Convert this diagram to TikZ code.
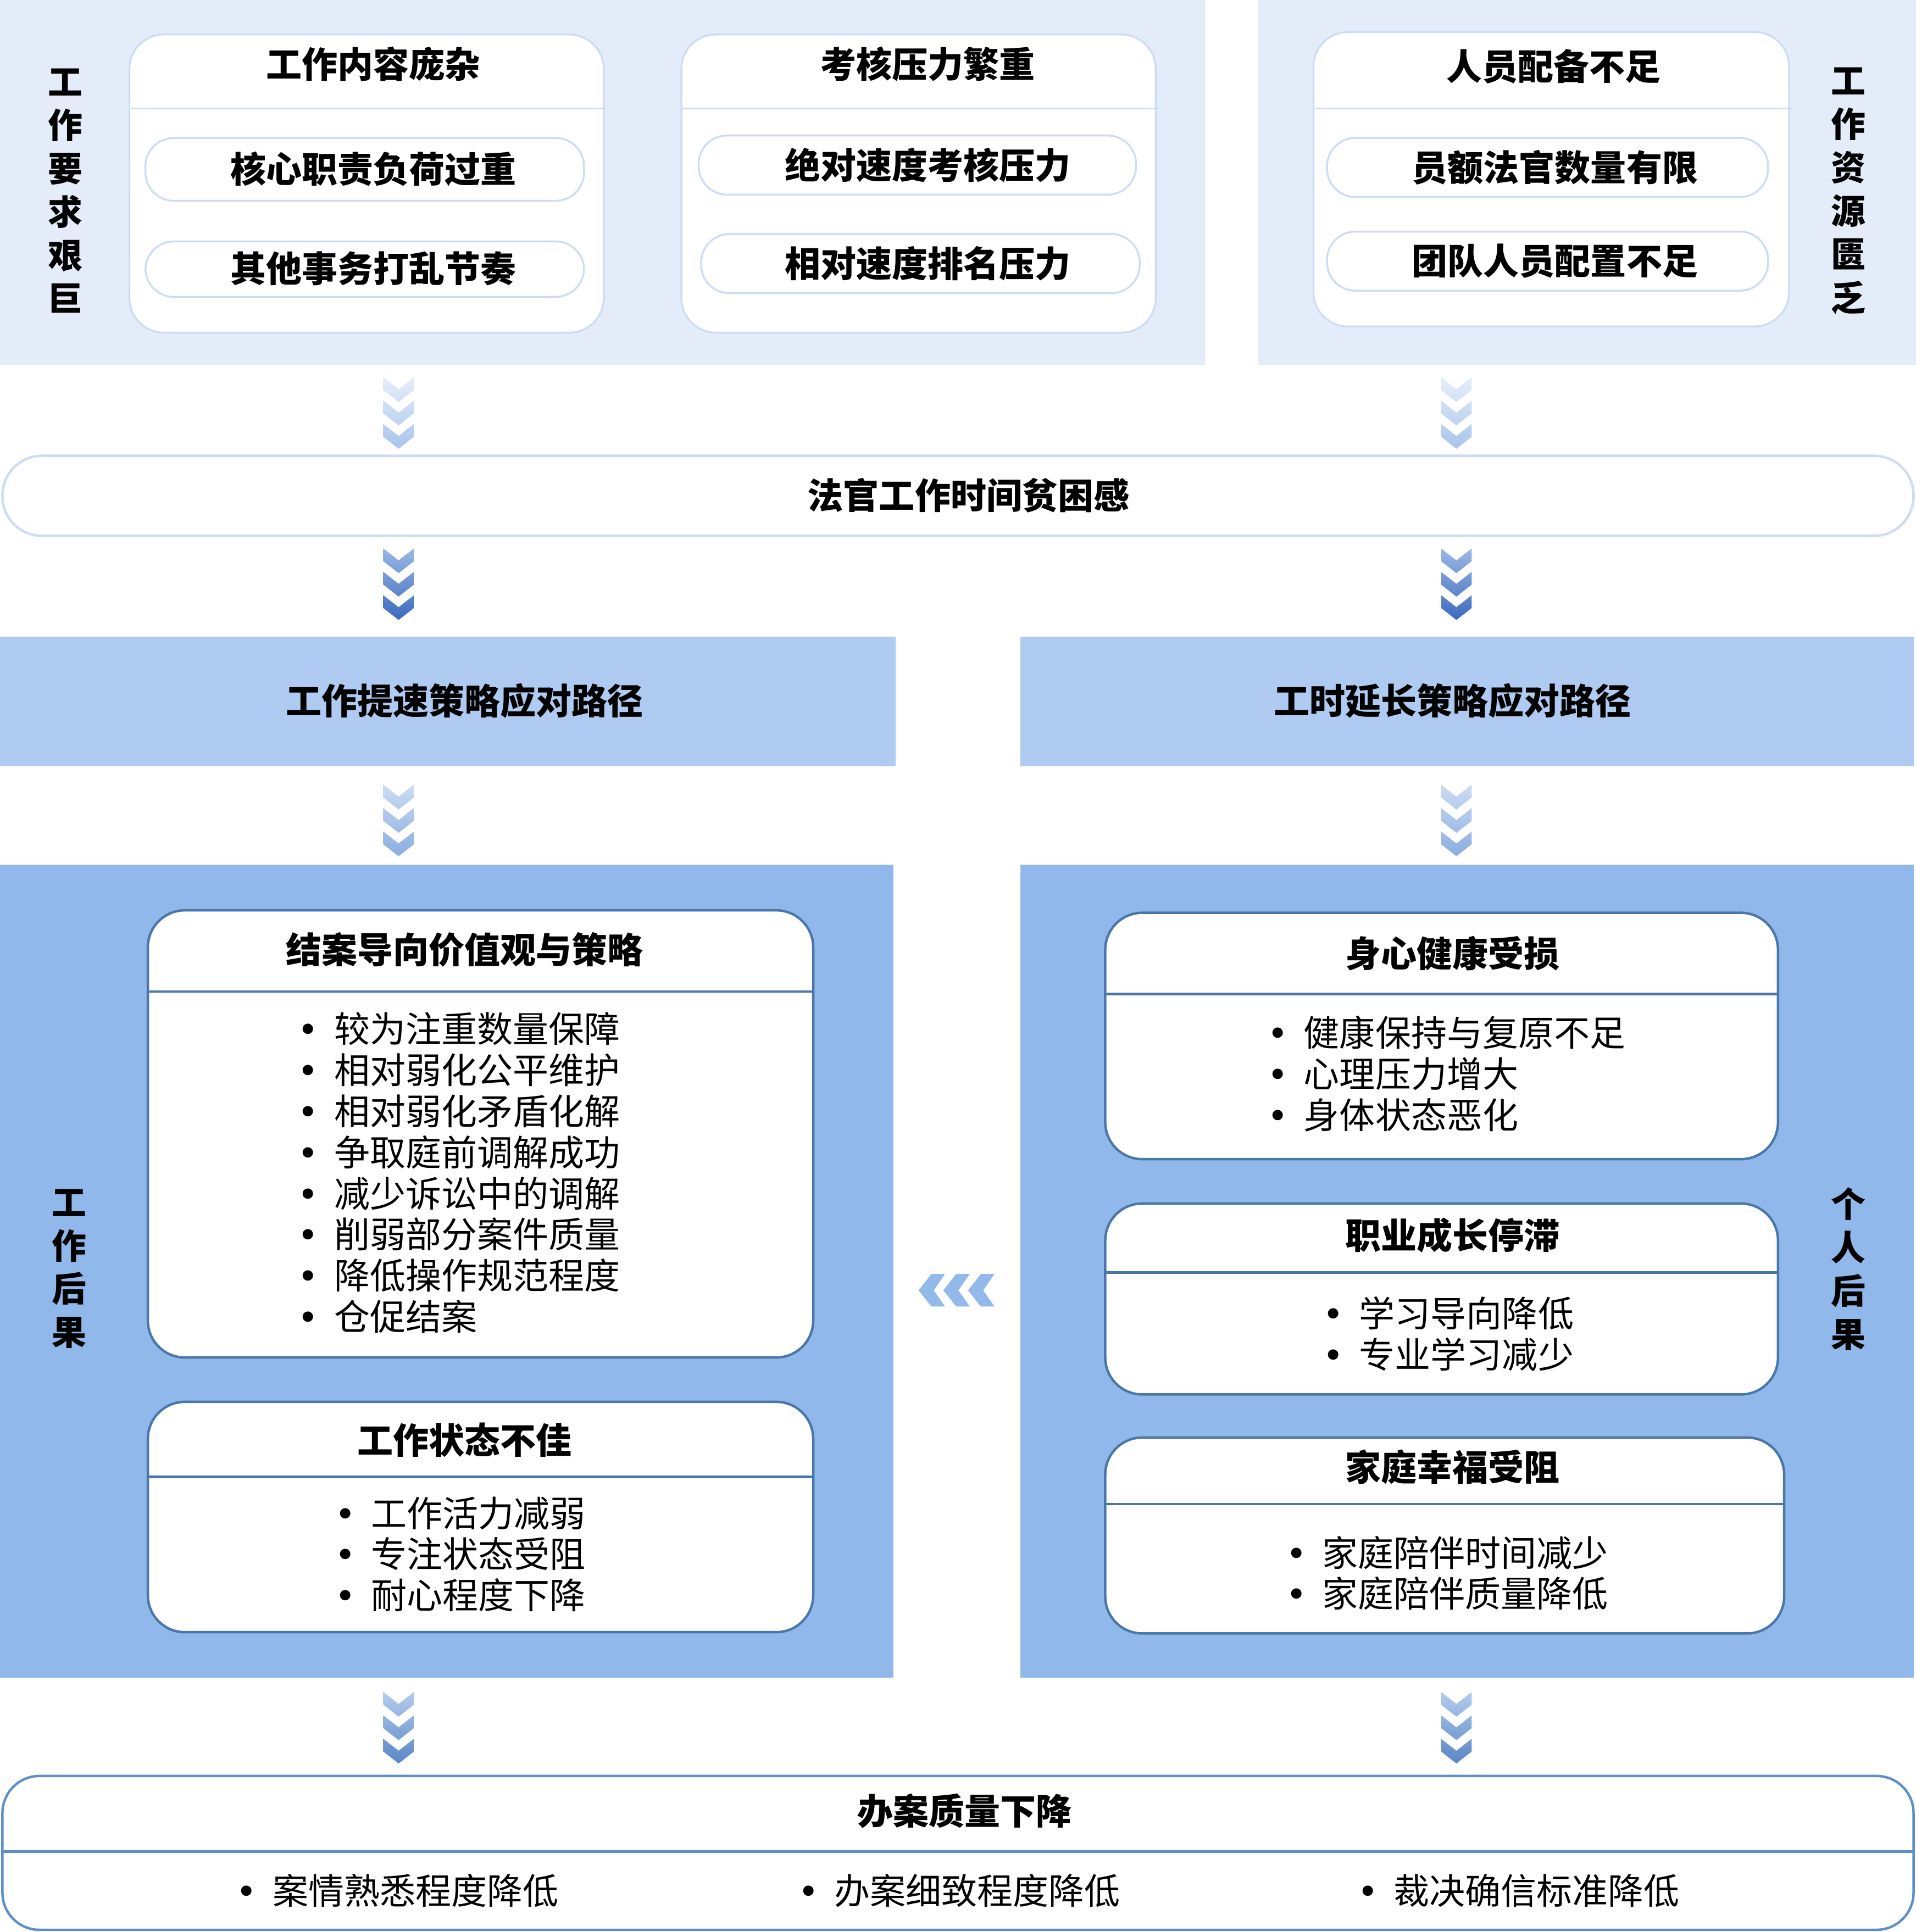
\documentclass[tikz,border=0pt]{standalone}
\usepackage{fontspec}
\newfontfamily\cjk{Noto Sans CJK SC}
\newfontfamily\dvs{DejaVu Sans}
\definecolor{bandlt}{HTML}{E4ECF9}
\definecolor{pillln}{HTML}{CBDCF4}
\definecolor{bandmid}{HTML}{AFCBF1}
\definecolor{panel}{HTML}{91B8EA}
\definecolor{cardln}{HTML}{4A76A9}
\definecolor{botln}{HTML}{5E8FC9}
\definecolor{lchev}{HTML}{93B9EA}
\definecolor{caA}{HTML}{E6EEF9}\definecolor{cbA}{HTML}{A9C4EC}
\definecolor{caB}{HTML}{9AB7E4}\definecolor{cbB}{HTML}{3C6BBF}
\definecolor{caC}{HTML}{CBDBF3}\definecolor{cbC}{HTML}{8BAEE0}
\definecolor{caD}{HTML}{B3CCEE}\definecolor{cbD}{HTML}{5A87C5}
\newcommand\bul{\makebox[29.5pt][l]{{\dvs •}}}
\newcommand\vchev[4]{%
  \shade[top color=#3, bottom color=#4] (#1-12.4,#2) -- (#1,#2+9.7) -- (#1+12.4,#2) -- (#1+12.4,#2+10.4) -- (#1,#2+20.1) -- (#1-12.4,#2+10.4) -- cycle;}
\newcommand\vchevs[4]{%
  \vchev{#1}{#2}{#3}{#4!33!#3}%
  \vchev{#1}{#2+19}{#4!33!#3}{#4!67!#3}%
  \vchev{#1}{#2+38}{#4!67!#3}{#4}}
\newcommand\hchev[1]{%
  \fill[lchev] (755.9+#1,1034.2) -- (767+#1,1034.2) -- (757.8+#1,1047.5) -- (767+#1,1060.6) -- (755.9+#1,1060.6) -- (745.5+#1,1047.5) -- cycle;}
\begin{document}
\begin{tikzpicture}[x=1pt,y=-1pt,
  ttl/.style={font=\cjk\bfseries\fontsize{29}{33}\selectfont, inner sep=0pt},
  lst/.style={font=\cjk\fontsize{29}{33.4}\selectfont, inner sep=0pt, align=left, anchor=west},
  vt/.style={font=\cjk\bfseries\fontsize{28}{35.2}\selectfont, inner sep=0pt, align=center},
  topbox/.style={draw=pillln, line width=1.5pt, fill=white, rounded corners=28pt},
  pill/.style={draw=pillln, line width=1.5pt, fill=white, rounded corners=23pt},
  card/.style={draw=cardln, line width=2pt, fill=white, rounded corners=30pt},
  sepl/.style={draw=cardln, line width=2pt},
  tsep/.style={draw=pillln, line width=1.5pt}]
\useasboundingbox (0,0) rectangle (1555,1568.4);
% ---------- top bands ----------
\fill[bandlt] (0,0) rectangle (978,296);
\fill[bandlt] (1021,0) rectangle (1555,296);
\node[vt] (vA) at (53,155) {工\\作\\要\\求\\艰\\巨};
\node[vt] (vB) at (1500,155) {工\\作\\资\\源\\匮\\乏};
% box 1
\draw[topbox] (105,28) rectangle (490,270);
\draw[tsep] (106,88) -- (492,88);
\node[ttl] (t1) at (303,52) {工作内容庞杂};
\draw[pill] (118,112) rectangle (474,163);
\node[ttl] (t1a) at (303,137) {核心职责负荷过重};
\draw[pill] (118,196) rectangle (474,241);
\node[ttl] (t1b) at (303,218) {其他事务打乱节奏};
% box 2
\draw[topbox] (553,28) rectangle (938,270);
\draw[tsep] (554,88) -- (940,88);
\node[ttl] (t2) at (753,52) {考核压力繁重};
\draw[pill] (567,110) rectangle (922,158);
\node[ttl] (t2a) at (753,134) {绝对速度考核压力};
\draw[pill] (569,190) rectangle (925,238);
\node[ttl] (t2b) at (753,214) {相对速度排名压力};
% box 3
\draw[topbox] (1066,26) rectangle (1452,265);
\draw[tsep] (1067,88) -- (1454,88);
\node[ttl] (t3) at (1261,54) {人员配备不足};
\draw[pill] (1077,112) rectangle (1435,160);
\node[ttl] (t3a) at (1262,136) {员额法官数量有限};
\draw[pill] (1077,188) rectangle (1435,236);
\node[ttl] (t3b) at (1262,212) {团队人员配置不足};
% ---------- chevrons 1 ----------
\vchevs{323.5}{306.2}{caA}{cbA}
\vchevs{1182}{306.2}{caA}{cbA}
% ---------- time poverty ----------
\draw[draw=pillln, line width=2pt, fill=white, rounded corners=32pt] (2,370) rectangle (1553,435);
\node[ttl] (tp) at (786,402) {法官工作时间贫困感};
% ---------- chevrons 2 ----------
\vchevs{323.5}{445.2}{caB}{cbB}
\vchevs{1182}{445.2}{caB}{cbB}
% ---------- strategy bands ----------
\fill[bandmid] (0,517) rectangle (727,622);
\fill[bandmid] (828,517) rectangle (1553,622);
\node[ttl] (sA) at (377,569) {工作提速策略应对路径};
\node[ttl] (sB) at (1179,569) {工时延长策略应对路径};
% ---------- chevrons 3 ----------
\vchevs{323.5}{637}{caC}{cbC}
\vchevs{1182}{637}{caC}{cbC}
% ---------- panels ----------
\fill[panel] (0,702) rectangle (725,1362);
\fill[panel] (828,702) rectangle (1553,1362);
\node[vt] (vC) at (56,1030) {工\\作\\后\\果};
\node[vt] (vD) at (1500,1030) {个\\人\\后\\果};
% card A
\draw[card] (120,739) rectangle (660,1102);
\draw[sepl] (120,805) -- (660,805);
\node[ttl] (cA) at (377,771) {结案导向价值观与策略};
\node[lst] (lA) at (241.5,952) {\bul 较为注重数量保障\\\bul 相对弱化公平维护\\\bul 相对弱化矛盾化解\\\bul 争取庭前调解成功\\\bul 减少诉讼中的调解\\\bul 削弱部分案件质量\\\bul 降低操作规范程度\\\bul 仓促结案};
% card B
\draw[card] (120,1138) rectangle (660,1325);
\draw[sepl] (120,1199) -- (660,1199);
\node[ttl] (cB) at (377,1169) {工作状态不佳};
\node[lst] (lB) at (271.5,1261.7) {\bul 工作活力减弱\\\bul 专注状态受阻\\\bul 耐心程度下降};
% card C
\draw[card] (897,741) rectangle (1443,941);
\draw[sepl] (897,807) -- (1443,807);
\node[ttl] (cC) at (1179,774) {身心健康受损};
\node[lst] (lC) at (1028.5,871.7) {\bul 健康保持与复原不足\\\bul 心理压力增大\\\bul 身体状态恶化};
% card D
\draw[card] (897,977) rectangle (1443,1132);
\draw[sepl] (897,1033) -- (1443,1033);
\node[ttl] (cD) at (1179,1003) {职业成长停滞};
\node[lst] (lD) at (1073.5,1083) {\bul 学习导向降低\\\bul 专业学习减少};
% card E
\draw[card] (897,1167) rectangle (1448,1326);
\draw[sepl] (897,1221) -- (1448,1221);
\node[ttl] (cE) at (1179,1191) {家庭幸福受阻};
\node[lst] (lE) at (1043.5,1277) {\bul 家庭陪伴时间减少\\\bul 家庭陪伴质量降低};
% ---------- left-pointing chevrons ----------
\hchev{0}\hchev{20.07}\hchev{40.14}
% ---------- chevrons 4 ----------
\vchevs{323.5}{1373.5}{caD}{cbD}
\vchevs{1182}{1373.5}{caD}{cbD}
% ---------- bottom box ----------
\draw[draw=botln, line width=2pt, fill=white, rounded corners=30pt] (2,1441.7) rectangle (1553,1566.6);
\draw[draw=botln, line width=2pt] (2,1503) -- (1553,1503);
\node[ttl] (bt) at (783,1470) {办案质量下降};
\node[lst] (b1) at (191.5,1535) {\bul 案情熟悉程度降低};
\node[lst] (b2) at (647.5,1535) {\bul 办案细致程度降低};
\node[lst] (b3) at (1101.5,1535) {\bul 裁决确信标准降低};
\end{tikzpicture}
\end{document}
